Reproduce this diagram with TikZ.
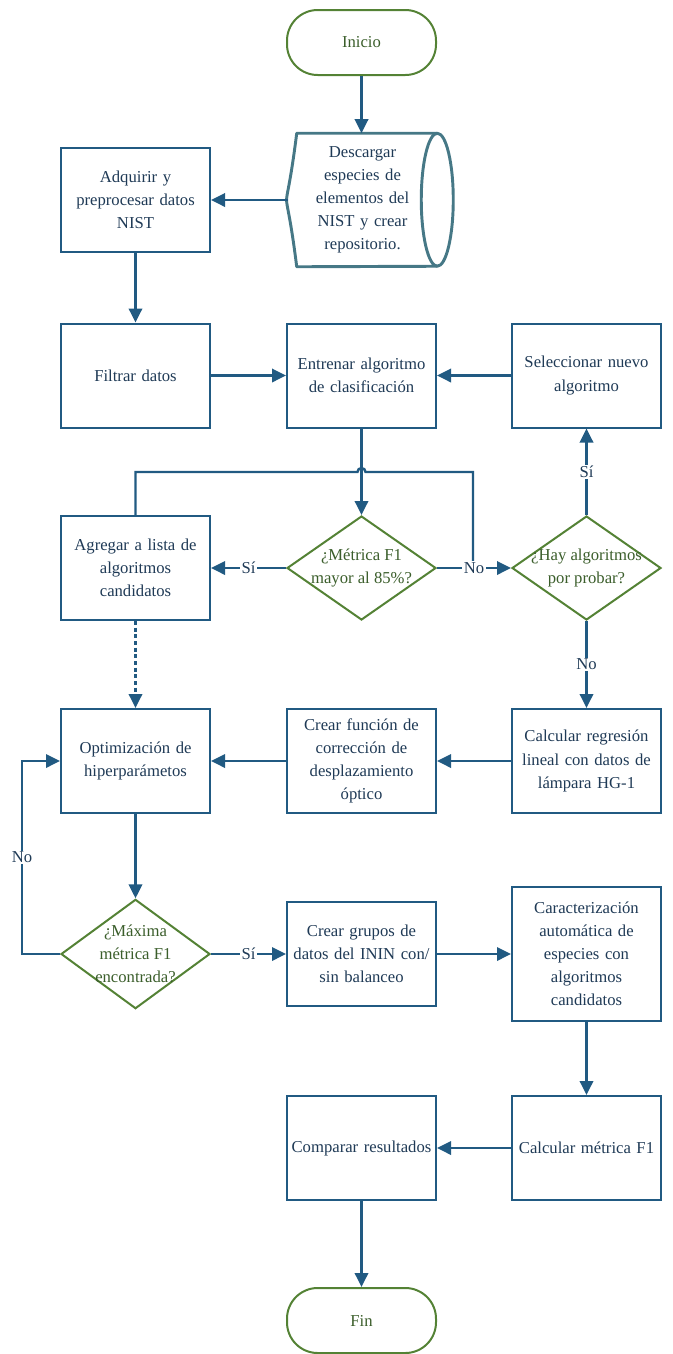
\documentclass[tikz,border=0pt]{standalone}
\usepackage{fontspec}
\setmainfont{Liberation Serif}
\usetikzlibrary{arrows.meta,shapes.geometric,calc}

\definecolor{azul}{HTML}{215A82}
\definecolor{tinta}{HTML}{1F3A56}
\definecolor{verde}{HTML}{548235}
\definecolor{verdeosc}{HTML}{3B5E2B}
\definecolor{gris}{HTML}{467886}

\tikzset{
  caja/.style={draw=azul, line width=1.5pt, fill=white, minimum width=111.75pt,
    minimum height=78pt, inner sep=0pt, text width=108pt, align=center, text=tinta},
  decision/.style={diamond, draw=verde, line width=1.5pt, fill=white,
    minimum width=111.75pt, minimum height=78pt, inner sep=0pt},
  dtexto/.style={text=verdeosc, align=center, inner sep=0pt},
  terminal/.style={draw=verde, line width=1.5pt, rounded corners=23pt,
    minimum width=111.75pt, minimum height=48.75pt, text=verdeosc},
  almacen/.style={minimum width=111.75pt, minimum height=99.75pt, inner sep=0pt,
    text width=90pt, align=center, text=tinta},
  linea/.style={draw=azul, line width=1.8pt},
  flecha/.style={linea, -{Triangle[length=10.5pt,width=10pt]}},
  etiq/.style={fill=white, text=tinta, inner sep=1pt},
}

\begin{document}
\begin{tikzpicture}[x=0.75pt, y=-0.75pt, font=\fontsize{12.5}{17.3}\selectfont]
            \useasboundingbox (0,0) rectangle (672,1354);

            % inicio
            \node[terminal] (ini) at (361.5,42.5) {Inicio};

            % descarga (datos almacenados)
            \node[almacen] (desc) at (362.5,200)
                {Descargar\\especies de\\elementos del\\NIST y crear\\repositorio.};
            \draw[gris, line width=2.2pt, line join=round]
                ([xshift=6.75pt]desc.north west) -- (desc.north east)
                arc[start angle=90, end angle=-90, x radius=12pt, y radius=49.875pt]
                -- ([xshift=6.75pt]desc.south west)
                .. controls ([xshift=-3.4pt,yshift=30pt]desc.west)
                and ([xshift=-3.4pt,yshift=-30pt]desc.west)
                .. ([xshift=6.75pt]desc.north west) -- cycle;
            \draw[gris, line width=2.2pt]
                (desc.north east)
                arc[start angle=90, end angle=270, x radius=12pt, y radius=49.875pt];

            % primera fila
            \node[caja] (adq) at (135.5,200) {Adquirir y\\preprocesar datos\\NIST};
            \node[caja] (fil) at (135.5,375.5) {Filtrar datos};
            \node[caja] (ent) at (361.5,375.5) {Entrenar algoritmo\\de clasificación};
            \node[caja] (sel) at (586.5,375.5) {Seleccionar nuevo\\algoritmo};

            % decisiones
            \node[caja] (agr) at (135.5,568) {Agregar a lista de\\algoritmos\\candidatos};
            \node[decision, label={[dtexto]center:{¿Métrica F1\\mayor al 85\%?}}]
                (d1) at (361.5,568) {};
            \node[decision, label={[dtexto]center:{¿Hay algoritmos\\por probar?}}]
                (d2) at (586.5,568) {};

            % optimización
            \node[caja] (opt) at (135.5,761) {Optimización de\\hiperparámetos};
            \node[caja] (fun) at (361.5,761)
                {Crear función de\\corrección de\\desplazamiento\\óptico};
            \node[caja] (reg) at (586.5,761)
                {Calcular regresión\\lineal con datos de\\lámpara HG-1};

            \node[decision, minimum height=82pt,
                label={[dtexto]center:{¿Máxima\\métrica F1\\encontrada?}}]
                (d3) at (135.5,954) {};
            \node[caja] (grp) at (361.5,954)
                {Crear grupos de\\datos del ININ con/\\sin balanceo};
            \node[caja, minimum height=100.5pt] (car) at (586.5,954)
                {Caracterización\\automática de\\especies con\\algoritmos\\candidatos};

            % final
            \node[caja] (cmp) at (361.5,1148) {Comparar resultados};
            \node[caja] (mf1) at (586.5,1148) {Calcular métrica F1};
            \node[terminal] (fin) at (361.5,1320.5) {Fin};

            \coordinate (salto) at (361.5,472);
            \coordinate (giro) at (473,472);
            \coordinate (lazo) at (22,954);

            % conexiones
            \draw[flecha] (ini.south) -- (ini |- desc.north);
            \draw[flecha] (desc.west) -- (adq.east);
            \draw[flecha] (adq) -- (fil);
            \draw[flecha] (fil) -- (ent);
            \draw[flecha] (sel) -- (ent);
            \draw[linea] (agr.north) |- ([xshift=-3pt]salto)
                arc[start angle=180, end angle=0, radius=3pt] -| (giro |- d1.east);
            \draw[flecha] (ent.south) -- (d1.north);
            \draw[flecha] (d1.west) -- node[etiq] (si1) {Sí} (agr.east);
            \draw[flecha] (d1.east) -- node[etiq] (no1) {No} (d2.west);
            \draw[flecha] (d2.north) -- node[etiq] (si2) {Sí} (sel.south);
            \draw[flecha] (d2.south) -- node[etiq] (no2) {No} (reg.north);
            \draw[flecha, dash pattern=on 3pt off 2pt] (agr.south) -- (opt.north);
            \draw[flecha] (reg) -- (fun);
            \draw[flecha] (fun) -- (opt);
            \draw[flecha] (opt.south) -- (d3.north);
            \draw[flecha] (d3.west) -- (lazo) |- node[etiq, pos=0.25] (no3) {No} (opt.west);
            \draw[flecha] (d3.east) -- node[etiq] (si3) {Sí} (grp.west);
            \draw[flecha] (grp) -- (car);
            \draw[flecha] (car.south) -- (mf1.north);
            \draw[flecha] (mf1) -- (cmp);
            \draw[flecha] (cmp.south) -- (fin.north);
        \end{tikzpicture}
\end{document}
